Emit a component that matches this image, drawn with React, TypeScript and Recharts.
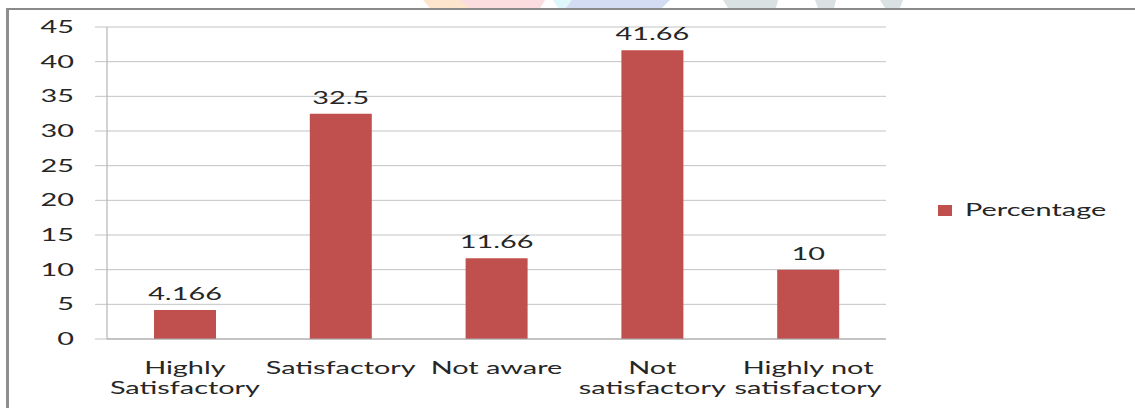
import { BarChart, Bar, XAxis, YAxis, CartesianGrid, Legend, LabelList } from 'recharts';

const categories = [
  ['Highly', 'Satisfactory'],
  ['Satisfactory'],
  ['Not aware'],
  ['Not', 'satisfactory'],
  ['Highly not', 'satisfactory'],
];
const percentage = [4.166, 32.5, 11.66, 41.66, 10];
const yTicks = [0, 5, 10, 15, 20, 25, 30, 35, 40, 45];
const boundaryTicks = [0, 1, 2, 3, 4, 5];

const data = categories.map((lines, i) => ({
  name: lines.join(' '),
  idx: i,
  Percentage: percentage[i],
}));

const FONT = 'Lato, "Noto Sans", sans-serif';
const FS = 16.5;
const SX = 1.75;
const INK = '#262626';
const BAR = '#C0504D';

function YTick({ x, y, payload }: any) {
  return (
    <text transform={`translate(${x},${y}) scale(${SX},1)`} textAnchor="end" dy="0.36em"
      fontFamily={FONT} fontSize={FS} fill={INK}>
      {payload.value}
    </text>
  );
}

function XTick({ x, y, payload }: any) {
  const lines = categories[payload.index] ?? [String(payload.value)];
  return (
    <g transform={`translate(${x},${y})`}>
      {lines.map((line, i) => (
        <text key={i} transform={`translate(0,${35 + i * 20}) scale(${SX},1)`} textAnchor="middle"
          fontFamily={FONT} fontSize={FS} fill={INK}>
          {line}
        </text>
      ))}
    </g>
  );
}

function ValueLabel({ x, y, width, value }: any) {
  return (
    <text transform={`translate(${x + width / 2},${y - 10}) scale(${SX},1)`} textAnchor="middle"
      fontFamily={FONT} fontSize={FS} fill={INK}>
      {value}
    </text>
  );
}

function LegendBox() {
  return (
    <div style={{ width: 200, height: 24, position: 'relative' }}>
      <div style={{ position: 'absolute', left: 52, top: 5, width: 14, height: 11, background: BAR }} />
      <span style={{
        position: 'absolute', left: 79, top: 0, display: 'inline-block', whiteSpace: 'nowrap',
        fontFamily: FONT, fontSize: FS, color: INK, lineHeight: '21px',
        transform: `scaleX(${SX})`, transformOrigin: 'left center',
      }}>
        Percentage
      </span>
    </div>
  );
}

// faint logo shapes peeking over the top edge of the frame
const marks = [
  { pts: '423,0 545,0 540,8 430,8', fill: '#fde4cc' },
  { pts: '460,0 545,0 540,8 470,8', fill: '#fbdcdf' },
  { pts: '553,0 670,0 662,8 560,8', fill: '#d4dcf4' },
  { pts: '553,0 572,0 566,8 558,8', fill: '#dff6fb' },
  { pts: '723,0 778,0 776,8 728,8', fill: '#d9e1e3' },
  { pts: '815,0 836,0 834,8 818,8', fill: '#d9e1e3' },
  { pts: '880,0 903,0 900,8 885,8', fill: '#d9e1e3' },
];

export default function App() {
  return (
    <div style={{ position: 'fixed', left: 0, top: 0, width: 1135, height: 408, background: '#fff', overflow: 'hidden' }}>
      <svg width={1135} height={10} style={{ position: 'absolute', left: 0, top: 0 }}>
        {marks.map((m, i) => <polygon key={i} points={m.pts} fill={m.fill} />)}
      </svg>
      <div style={{
        position: 'absolute', left: 6, top: 8, width: 1200, height: 500,
        borderLeft: '3px solid #8e8e8e', borderTop: '2px solid #8a8a8a',
      }} />
      <div style={{ position: 'absolute', left: 0, top: 0 }}>
        <BarChart width={1135} height={408} data={data}
          margin={{ top: 27, right: 49, left: 0, bottom: 0 }} barSize={62}>
          <CartesianGrid vertical={false} stroke="#c3c3c3" />
          <XAxis xAxisId="bounds" type="number" dataKey="idx" domain={[0, 5]} ticks={boundaryTicks}
            height={0} tick={false} tickSize={6} tickLine={{ stroke: '#a6a6a6' }} axisLine={false} />
          <XAxis dataKey="name" height={69} tickLine={false} tickSize={0} tickMargin={0}
            axisLine={{ stroke: '#a6a6a6' }} tick={<XTick />} interval={0} />
          <YAxis width={107} domain={[0, 45]} ticks={yTicks} tickSize={12} tickMargin={21}
            tickLine={{ stroke: '#c3c3c3' }} axisLine={{ stroke: '#a6a6a6' }} tick={<YTick />} />
          <Legend layout="vertical" align="right" verticalAlign="middle"
            wrapperStyle={{ left: 886, top: 200, width: 200 }} content={<LegendBox />} />
          <Bar dataKey="Percentage" fill={BAR} isAnimationActive={false}>
            <LabelList dataKey="Percentage" content={<ValueLabel />} />
          </Bar>
        </BarChart>
      </div>
    </div>
  );
}
